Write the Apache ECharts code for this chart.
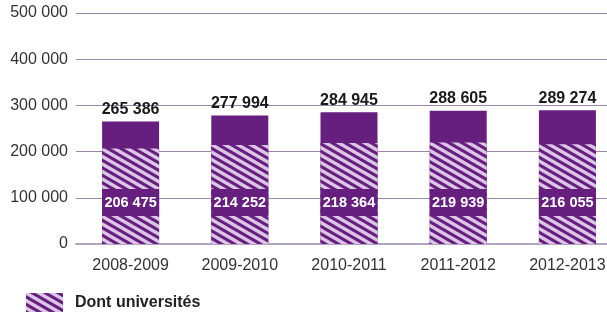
<!DOCTYPE html>
<html><head><meta charset="utf-8">
<script src="https://cdn.jsdelivr.net/npm/echarts@6/dist/echarts.min.js"></script>
<style>html,body{margin:0;padding:0;background:#fff}#c{width:607px;height:314px}</style>
</head><body><div id="c"></div>
<script>
var categories = ['2008-2009', '2009-2010', '2010-2011', '2011-2012', '2012-2013'];
var totals = [265386, 277994, 284945, 288605, 289274];
var universites = [206475, 214252, 218364, 219939, 216055];
var yTicks = [0, 100000, 200000, 300000, 400000, 500000];

var PURPLE = '#661f7e';
var LIGHT = '#dcc6e6';
var FONT = '"Liberation Sans", Arial, sans-serif';

function makeHatch() {
  var W = 26, H = 15;
  var cv = document.createElement('canvas');
  cv.width = W; cv.height = H;
  var ctx = cv.getContext('2d');
  ctx.fillStyle = PURPLE;
  ctx.fillRect(0, 0, W, H);
  ctx.strokeStyle = LIGHT;
  ctx.lineWidth = 3.4;
  for (var k = -52; k <= 52; k += 13) {
    ctx.beginPath();
    ctx.moveTo(k - W, -H);
    ctx.lineTo(k + 2 * W, 2 * H);
    ctx.stroke();
  }
  return cv;
}
var hatch = { image: makeHatch(), repeat: 'repeat' };

function fmt(v) {
  return String(v).replace(/\B(?=(\d{3})+(?!\d))/g, ' ');
}

var chart = echarts.init(document.getElementById('c'), null, { renderer: 'canvas' });
chart.setOption({
  animation: false,
  backgroundColor: '#fff',
  grid: { left: 76, width: 546, top: 13, bottom: 70, containLabel: false, outerBoundsMode: 'none' },
  legend: {
    data: ['Dont universités'],
    left: 26, top: 293, padding: 0,
    itemWidth: 37, itemHeight: 19,
    icon: 'rect',
    textStyle: { fontFamily: FONT, fontWeight: 'bold', fontSize: 16, color: '#222', padding: [4, 0, 0, 7] }
  },
  xAxis: {
    type: 'category',
    data: categories,
    axisLine: { show: true, lineStyle: { color: '#b3a5bd', width: 2 } },
    axisTick: { show: false },
    axisLabel: { margin: 14, fontFamily: FONT, fontSize: 16, color: '#333' }
  },
  yAxis: {
    type: 'value',
    min: yTicks[0], max: yTicks[yTicks.length - 1], interval: 100000,
    axisLine: { show: false },
    axisTick: { show: false },
    splitLine: { lineStyle: { color: '#9a85ab', width: 1 } },
    axisLabel: {
      margin: 8, fontFamily: FONT, fontSize: 16, color: '#333',
      formatter: function (v) { return fmt(v); }
    }
  },
  series: [
    {
      name: 'Total',
      type: 'bar',
      data: totals,
      barWidth: 57,
      itemStyle: { color: PURPLE },
      label: {
        show: true, position: 'top', distance: 4,
        fontFamily: FONT, fontWeight: 'bold', fontSize: 16, color: '#1a1a1a',
        formatter: function (p) { return fmt(p.value); }
      },
      z: 2
    },
    {
      name: 'Dont universités',
      type: 'bar',
      data: universites,
      barWidth: 57,
      barGap: '-100%',
      itemStyle: { color: hatch },
      label: {
        show: true, position: 'insideBottom', distance: 28,
        width: 57, height: 27, lineHeight: 27, padding: 0, align: 'center',
        backgroundColor: PURPLE,
        fontFamily: FONT, fontWeight: 'bold', fontSize: 14.5, color: '#fff',
        formatter: function (p) { return fmt(p.value); }
      },
      z: 3
    }
  ]
});
</script>
</body></html>
